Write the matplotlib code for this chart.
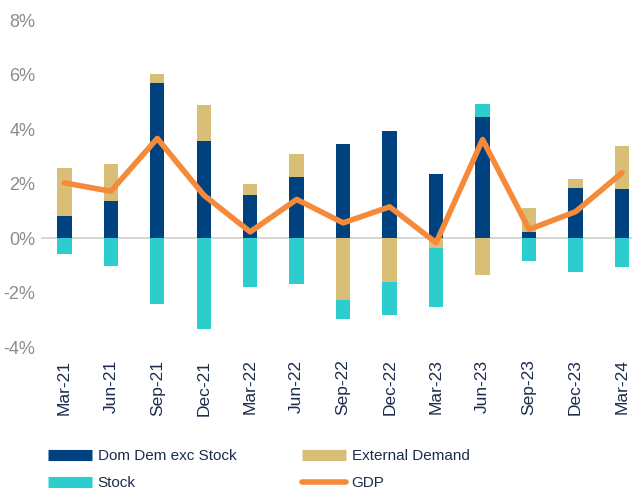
import numpy as np
import matplotlib
matplotlib.use("Agg")
import matplotlib.pyplot as plt
from matplotlib.lines import Line2D

plt.rcParams['font.family'] = ['Liberation Sans', 'DejaVu Sans']

quarters = ["Mar-21", "Jun-21", "Sep-21", "Dec-21", "Mar-22", "Jun-22", "Sep-22",
            "Dec-22", "Mar-23", "Jun-23", "Sep-23", "Dec-23", "Mar-24"]
dom_dem = [0.82, 1.36, 5.70, 3.56, 1.60, 2.25, 3.47, 3.94, 2.34, 4.43, 0.21, 1.85, 1.81]
ext_dem = [1.77, 1.36, 0.34, 1.32, 0.38, 0.82, -2.28, -1.60, -0.38, -1.37, 0.88, 0.32, 1.59]
stock = [-0.59, -1.03, -2.42, -3.35, -1.79, -1.69, -0.70, -1.23, -2.14, 0.51, -0.83, -1.25, -1.05]
gdp = [2.03, 1.72, 3.66, 1.58, 0.23, 1.42, 0.56, 1.15, -0.17, 3.62, 0.32, 0.97, 2.40]

c_dom = "#00427F"
c_ext = "#D9BE77"
c_stock = "#2ECDCD"
c_gdp = "#F58A3A"

fig = plt.figure(figsize=(6.32, 4.93), dpi=100)
ax = fig.add_axes([0.065, 0.296, 0.956, 0.663])

x = np.arange(len(quarters))
w = 0.31
pos_base = np.zeros(len(x))
neg_base = np.zeros(len(x))
for vals, col in [(dom_dem, c_dom), (ext_dem, c_ext), (stock, c_stock)]:
    v = np.array(vals)
    bottoms = np.where(v >= 0, pos_base, neg_base)
    ax.bar(x, v, w, bottom=bottoms, color=col, zorder=2)
    pos_base = pos_base + np.where(v >= 0, v, 0)
    neg_base = neg_base + np.where(v < 0, v, 0)

ax.axhline(0, color="#D0D0D0", lw=1.2, zorder=1)
ax.plot(x, gdp, color=c_gdp, lw=4, solid_capstyle="round", solid_joinstyle="round", zorder=3)

ax.set_ylim(-4, 8)
ax.set_xlim(-0.5, 12.5)
ax.set_yticks(range(-4, 9, 2))
ax.set_yticklabels([f"{t}%" for t in range(-4, 9, 2)], color="#8C8C8C", fontsize=13)
ax.set_xticks(x)
ax.set_xticklabels(quarters, rotation=90, color="#1C2C4C", fontsize=12.5)
ax.tick_params(axis="both", length=0, pad=4)
ax.tick_params(axis="x", pad=9)
for s in ax.spines.values():
    s.set_visible(False)

handles = [Line2D([], [], color=c_dom, lw=8, solid_capstyle="butt"),
           Line2D([], [], color=c_stock, lw=8, solid_capstyle="butt"),
           Line2D([], [], color=c_ext, lw=8, solid_capstyle="butt"),
           Line2D([], [], color=c_gdp, lw=4, solid_capstyle="round")]
labels = ["Dom Dem exc Stock", "Stock", "External Demand", "GDP"]
fig.legend(handles, labels, ncol=2, loc="upper left", bbox_to_anchor=(48 / 632, 1 - 449 / 493),
           frameon=False, fontsize=11, handlelength=2.9, handletextpad=0.35,
           columnspacing=4.3, labelspacing=0.85, borderpad=0, borderaxespad=0,
           labelcolor="#1C2C4C")

fig.savefig("out.png", dpi=100)
